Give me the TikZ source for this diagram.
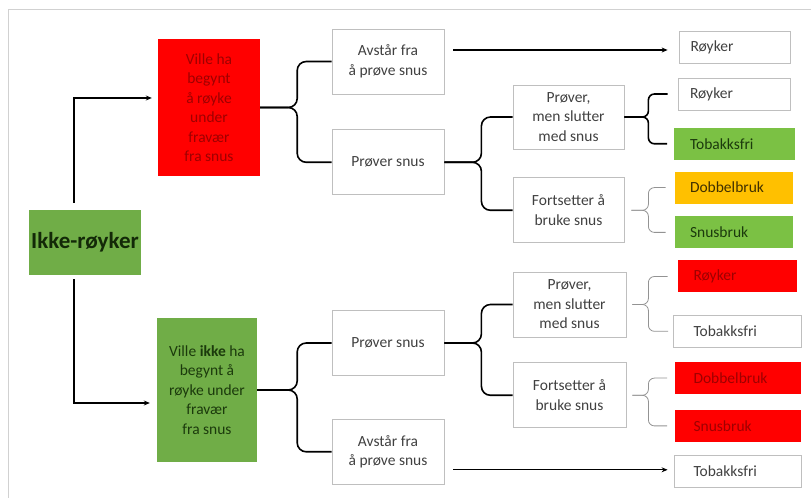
\documentclass[tikz,border=0pt]{standalone}
\usepackage{fontspec}
\setmainfont{Carlito}
\usepackage{tikz}
\usetikzlibrary{positioning, calc, arrows.meta}
\definecolor{rodfarge}{HTML}{FF0000}
\definecolor{rodtekst}{HTML}{9E0000}
\definecolor{groenn}{HTML}{70AD47}
\definecolor{lysgroenn}{HTML}{7BC144}
\definecolor{groenntekst}{HTML}{1B3A0C}
\definecolor{oransje}{HTML}{FFC000}
\definecolor{rammegraa}{HTML}{BFBFBF}
\definecolor{tekstgraa}{HTML}{404040}

\begin{document}
\begin{tikzpicture}[x=1pt, y=1pt,
    boks/.style={draw=rammegraa, line width=0.8pt, rectangle, minimum width=112pt, minimum height=65pt, inner sep=2pt, align=center, text=tekstgraa, font=\fontsize{15.5}{19.5}\selectfont},
    gruppe/.style={rectangle, minimum width=102pt, inner sep=2pt, align=center, font=\fontsize{15.5}{19.5}\selectfont},
    utfall/.style={draw=rammegraa, line width=0.8pt, rectangle, minimum width=#1, minimum height=32pt, text width=88pt, inner xsep=11pt, inner ysep=2pt, align=left, text=tekstgraa, font=\fontsize{15.5}{19.5}\selectfont},
    rodboks/.style={fill=rodfarge, draw=none, text=rodtekst},
    gronnboks/.style={fill=lysgroenn, draw=none, text=groenntekst},
    oransjeboks/.style={fill=oransje, draw=none, text=black!75!oransje},
    pil/.style={draw=black, line width=1.3pt, -{Stealth[length=6pt, width=5pt]}},
    klamme/.style={draw=black, line width=1.6pt, rounded corners=9pt},
    tynnklamme/.style={draw=gray!85, line width=0.8pt, rounded corners=6pt},
    ramme/.style={draw=black!18, line width=0.8pt}
]
\useasboundingbox (0,0) rectangle (812,498);

% --- RAMME ---
\draw[ramme] (8,-2) -- (8,489) -- (811,489);

% --- KNOTEN ---
% Startboks
\node[rectangle, fill=groenn, minimum width=112pt, minimum height=65pt, inner sep=1pt, text=groenntekst!70!black, font=\fontsize{23}{26}\selectfont\bfseries] (ikke) at (85,255.5) {Ikke-røyker};

% Gruppene
\node[gruppe, fill=rodfarge, text=rodtekst, minimum height=137pt] (rodgr) at (209,390.5) {Ville ha\\begynt\\å røyke\\under\\fravær\\fra snus};
\node[gruppe, fill=groenn, text=groenntekst, minimum width=100pt, minimum height=144pt] (groenngr) at (207,108) {Ville \textbf{ikke} ha\\begynt å\\røyke under\\fravær\\fra snus};

% Valg om snus
\node[boks] (avstaarA) at (388,436.5) {Avstår fra\\å prøve snus};
\node[boks, below=35pt of avstaarA] (proverA) {Prøver snus};
\node[boks] (proverB) at (388,155) {Prøver snus};
\node[boks, below=43pt of proverB] (avstaarB) {Avstår fra\\å prøve snus};

% Videre bruk
\node[boks, minimum width=111pt, minimum height=64pt] (slutterA) at (568.5,381) {Prøver,\\men slutter\\med snus};
\node[boks, minimum width=111pt, below=28pt of slutterA] (fortsetterA) {Fortsetter å\\bruke snus};
\node[boks, minimum width=113pt] (slutterB) at (569.5,193.5) {Prøver,\\men slutter\\med snus};
\node[boks, minimum width=113pt, below=25pt of slutterB] (fortsetterB) {Fortsetter å\\bruke snus};

% Utfall (øvre del)
\node[utfall=111pt] (royA) at (734.5,451) {Røyker};
\node[utfall=112pt] (royA2) at (734,404) {Røyker};
\node[utfall=121pt, gronnboks, below=17pt of royA2] (tobA) {Tobakksfri};
\node[utfall=118pt, oransjeboks, below=11pt of tobA] (dobA) {Dobbelbruk};
\node[utfall=118pt, gronnboks, below=12pt of dobA] (snusA) {Snusbruk};

% Utfall (nedre del)
\node[utfall=119pt, rodboks] (royB) at (737.5,221.5) {Røyker};
\node[utfall=128pt, below=22pt of royB] (tobB) {Tobakksfri};
\node[utfall=126pt, rodboks, below=14pt of tobB] (dobB) {Dobbelbruk};
\node[utfall=126pt, rodboks, below=15pt of dobB] (snusB) {Snusbruk};
\node[utfall=127pt] (tobC) at (737.5,27) {Tobakksfri};


% --- KANTER ---

% 1. Piler fra Ikke-røyker
\draw[pil, shorten <=7pt, shorten >=6pt] ([xshift=-11pt]ikke.north) |- ([yshift=9.5pt]rodgr.west);
\draw[pil, shorten <=4pt, shorten >=7pt] ([xshift=-11pt]ikke.south) |- ([yshift=-13pt]groenngr.west);

% 2. Store klammer
\draw[klamme] (rodgr.east) -- ++(37,0) |- (avstaarA.west);
\draw[klamme] (rodgr.east) -- ++(37,0) |- (proverA.west);
\draw[klamme] (groenngr.east) -- ++(40,0) |- (proverB.west);
\draw[klamme] (groenngr.east) -- ++(40,0) |- (avstaarB.west);

\draw[klamme] (proverA.east) -- ++(37,0) |- (slutterA.west);
\draw[klamme] (proverA.east) -- ++(37,0) |- (fortsetterA.west);
\draw[klamme] (proverB.east) -- ++(37,0) |- (slutterB.west);
\draw[klamme] (proverB.east) -- ++(37,0) |- (fortsetterB.west);

% 3. Små klammer mot utfallene
\draw[klamme, rounded corners=6pt, shorten >=10pt] (slutterA.east) -- ++(24,0) |- (royA2.west);
\draw[klamme, rounded corners=6pt, shorten >=6pt] (slutterA.east) -- ++(24,0) |- (tobA.west);
\draw[tynnklamme, shorten <=7pt, shorten >=9pt] (fortsetterA.east) -- ++(24,0) |- (dobA.west);
\draw[tynnklamme, shorten <=7pt, shorten >=9pt] (fortsetterA.east) -- ++(24,0) |- (snusA.west);

\draw[tynnklamme, shorten <=6pt, shorten >=10pt] (slutterB.east) -- ++(22,0) |- (royB.west);
\draw[tynnklamme, shorten <=6pt, shorten >=5pt] (slutterB.east) -- ++(22,0) |- (tobB.west);
\draw[tynnklamme, shorten <=6pt, shorten >=7pt] (fortsetterB.east) -- ++(22,0) |- (dobB.west);
\draw[tynnklamme, shorten <=6pt, shorten >=7pt] (fortsetterB.east) -- ++(22,0) |- (snusB.west);

% 4. Rette piler for dem som avstår
\path (avstaarA.east) ++(0,11.5) coordinate (pA);
\draw[pil, shorten <=9pt, shorten >=11pt] (pA) -- (pA -| royA.west);
\path (avstaarB.east) ++(0,-18) coordinate (pB);
\draw[pil, shorten <=9pt, shorten >=6pt] (pB) -- (pB -| tobC.west);

\end{tikzpicture}
\end{document}
